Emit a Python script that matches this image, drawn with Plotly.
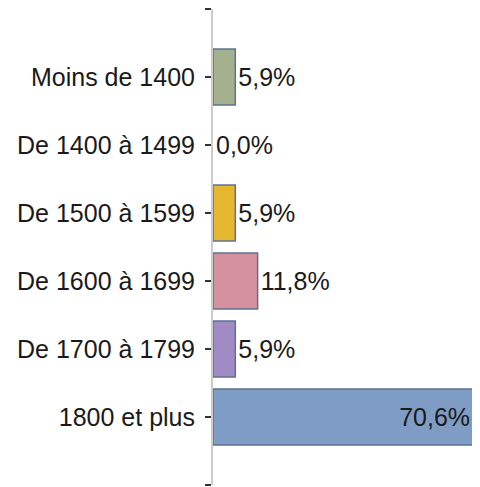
import plotly.graph_objects as go

categories = ["Moins de 1400", "De 1400 à 1499", "De 1500 à 1599",
              "De 1600 à 1699", "De 1700 à 1799", "1800 et plus"]
values = [5.9, 0.0, 5.9, 11.8, 5.9, 70.6]
labels = ["5,9%", "0,0%", "5,9%", "11,8%", "5,9%", "70,6%\u00a0"]
colors = ["#a4b08e", "#9aa0c0", "#e6b830", "#d6919f", "#a08bc4", "#7f9dc4"]
outline_widths = [1.5, 0, 1.5, 1.5, 1.5, 1.5]
text_positions = ["outside", "outside", "outside", "outside", "outside", "inside"]

positions = list(range(len(categories)))
FONT = "Liberation Sans, Arial, sans-serif"
FS = 25

fig = go.Figure(go.Bar(
    x=values,
    y=positions,
    orientation="h",
    marker=dict(color=colors, line=dict(color="#5f7192", width=outline_widths)),
    text=labels,
    textposition=text_positions,
    insidetextanchor="end",
    textfont=dict(family=FONT, size=FS, color="#1a1a1a"),
    cliponaxis=False,
    hoverinfo="skip",
))

# the page body has an 8px margin, so the figure is 8px smaller in each direction
fig.update_layout(
    width=472, height=479,
    margin=dict(l=205, r=0, t=1, b=2),
    paper_bgcolor="white", plot_bgcolor="white",
    bargap=0.18,
    showlegend=False,
    font=dict(family=FONT, size=FS, color="#1a1a1a"),
)
fig.update_xaxes(range=[0, 70.6], visible=False, fixedrange=True)
fig.update_yaxes(
    range=[len(categories), -1],
    tickmode="array",
    tickvals=list(range(-1, len(categories) + 1)),
    ticktext=[""] + categories + [""],
    ticks="outside", ticklen=6, tickwidth=2, tickcolor="#333333",
    showline=True, linecolor="#cccccc", linewidth=2,
    showgrid=False, zeroline=False,
    tickfont=dict(family=FONT, size=FS, color="#1a1a1a"),
    ticklabelstandoff=5,
    fixedrange=True,
)

fig.write_html("out.html")
